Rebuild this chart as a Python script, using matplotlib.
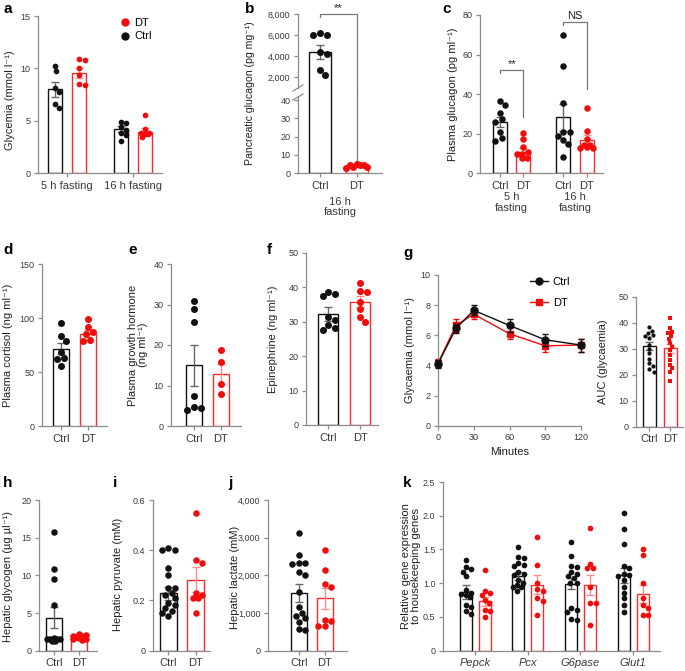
"""
Multi-panel figure: glycemia, glucagon, stress hormones and hepatic
metabolites in Ctrl vs DT mice (bar + scatter, Prism style).
"""

import numpy as np
import matplotlib
matplotlib.use('Agg')
import matplotlib.pyplot as plt
from matplotlib.lines import Line2D
from matplotlib.ticker import FuncFormatter

plt.rcParams['font.family'] = ['Liberation Sans', 'DejaVu Sans']
plt.rcParams['font.size'] = 8

# ---------------------------------------------------------------- data
# a - glycemia after fasting
a_groups = ['5 h fasting', '16 h fasting']
a_ctrl_pts = [[10.2, 9.7, 8.1, 7.7, 6.6, 6.2],
              [4.9, 4.8, 4.35, 4.15, 3.8, 3.6, 3.1]]
a_dt_pts = [[10.9, 10.8, 10.0, 9.4, 8.5, 8.4],
            [5.5, 4.2, 3.85, 3.8, 3.7, 3.7, 3.45]]
a_ctrl_mean = [8.0, 4.2]
a_ctrl_sem = [0.7, 0.25]
a_dt_mean = [9.55, 3.95]
a_dt_sem = [0.45, 0.35]

# b - pancreatic glucagon (16 h fasting)
b_ctrl_pts = [6220, 6030, 5970, 4380, 4220, 2670, 2160]
b_dt_pts = [3.5, 5.0, 4.6, 3.0, 4.2, 4.4, 3.1]
b_mean = [4400, 4.0]
b_sem = [650, 0.3]

# c - plasma glucagon
c_groups = ['5 h\nfasting', '16 h\nfasting']
c_ctrl_pts = [[36.5, 34.4, 30.2, 27.2, 25.7, 20.9, 17.9, 16.4],
              [70, 54, 35.3, 20.6, 20.6, 18.7, 16.7, 14.5, 8.3]]
c_dt_pts = [[20.4, 17.0, 13.0, 10.8, 9.8, 9.5, 7.4, 7.4],
            [32.8, 21.3, 17.0, 14.2, 13.3, 14.2, 12.5, 12.8]]
c_ctrl_mean = [25.7, 28.3]
c_ctrl_sem = [2.6, 6.8]
c_dt_mean = [10.8, 16.9]
c_dt_sem = [2.0, 2.3]

# d - plasma cortisol
d_ctrl = [95, 83, 79, 68.5, 63, 62, 56]
d_dt = [99.5, 92, 87.5, 85, 79.4, 78.8]
d_mean = [71.7, 85.5]
d_sem = [5.0, 3.2]

# e - plasma growth hormone
e_ctrl = [30.8, 29.0, 25.8, 7.5, 4.8, 4.5, 4.0]
e_dt = [18.8, 15.8, 10.3, 7.8]
e_mean = [15.0, 12.8]
e_sem = [5.0, 2.5]

# f - epinephrine
f_ctrl = [38.7, 38.1, 37.5, 31.5, 30.5, 29.1, 28.1, 27.6]
f_dt = [41.2, 39.0, 38.8, 35.9, 33.6, 31.5, 30.0]
f_mean = [32.2, 35.8]
f_sem = [2.0, 1.6]

# g - glucose tolerance curve + AUC
g_minutes = [0, 15, 30, 60, 90, 120]
g_ctrl = [4.1, 6.45, 7.66, 6.65, 5.7, 5.35]
g_ctrl_sem = [0.25, 0.3, 0.32, 0.4, 0.4, 0.43]
g_dt = [4.15, 6.65, 7.4, 6.1, 5.3, 5.35]
g_dt_sem = [0.25, 0.4, 0.3, 0.35, 0.4, 0.43]
auc_ctrl = [38.2, 36.8, 35.9, 35.3, 34.9, 34.0, 31.4, 29.8, 28.2, 25.9,
            24.4, 23.5, 22.0, 21.2]
auc_dt = [41.9, 37.8, 36.5, 35.9, 34.9, 33.7, 32.1, 30.8, 29.5, 27.6,
          25.7, 23.7, 22.5, 21.0, 17.6]
auc_mean = [31.0, 30.2]
auc_sem = [1.5, 1.7]

# h - hepatic glycogen
h_ctrl = [15.8, 10.8, 9.5, 6.0, 1.7, 1.6, 1.6, 1.5, 1.5, 1.4, 1.3, 1.3]
h_dt = [2.2, 2.1, 2.0, 1.9, 1.8, 1.7, 1.6, 1.5, 1.4]
h_mean = [4.4, 1.8]
h_sem = [1.35, 0.1]

# i - hepatic pyruvate
i_ctrl = [0.41, 0.40, 0.40, 0.33, 0.30, 0.25, 0.25, 0.23, 0.22, 0.21,
          0.19, 0.18, 0.17, 0.16, 0.15, 0.14]
i_dt = [0.55, 0.36, 0.35, 0.23, 0.22, 0.21, 0.21, 0.15]
i_mean = [0.228, 0.282]
i_sem = [0.025, 0.05]

# j - hepatic lactate
j_ctrl = [3130, 2540, 2340, 2320, 2300, 2080, 2000, 1560, 1150, 1000,
          920, 860, 750, 580, 550]
j_dt = [2680, 2140, 1760, 1700, 820, 800, 660, 650]
j_mean = [1520, 1390]
j_sem = [240, 280]

# k - relative gene expression
k_genes = ['Pepck', 'Pcx', 'G6pase', 'Glut1']
k_ctrl_pts = [
    [1.34, 1.24, 1.21, 1.17, 1.10, 0.90, 0.86, 0.84, 0.83, 0.80, 0.68, 0.65, 0.59, 0.55],
    [1.53, 1.39, 1.38, 1.30, 1.27, 1.25, 1.17, 1.14, 1.12, 1.05, 1.00, 0.97, 0.95, 0.94, 0.89],
    [1.61, 1.40, 1.25, 1.24, 1.17, 1.14, 1.10, 1.07, 1.01, 1.00, 0.63, 0.60, 0.58, 0.47, 0.45],
    [2.04, 1.81, 1.58, 1.26, 1.22, 1.14, 1.12, 1.10, 1.05, 0.95, 0.86, 0.78, 0.68, 0.58],
]
k_dt_pts = [
    [1.19, 0.89, 0.86, 0.82, 0.75, 0.70, 0.60, 0.59, 0.50],
    [1.68, 1.27, 1.00, 0.91, 0.88, 0.78, 0.74, 0.53],
    [1.82, 1.29, 1.22, 1.22, 0.95, 0.70, 0.70, 0.38],
    [1.50, 1.42, 1.00, 0.78, 0.68, 0.64, 0.53, 0.53],
]
k_ctrl_mean = [0.87, 1.11, 0.99, 1.12]
k_ctrl_sem = [0.1, 0.06, 0.08, 0.11]
k_dt_mean = [0.73, 0.975, 0.97, 0.84]
k_dt_sem = [0.07, 0.14, 0.15, 0.13]

# ---------------------------------------------------------------- style
RED = '#f20c0c'
RED_EDGE = '#ff2a2a'
RED_ERR = '#ff8c8c'
BLACK = '#111111'
BLACK_ERR = '#666666'
SPINE = '#8c8c8c'
TICKTXT = '#3a3a3a'
LABEL = '#222222'

STYLES = {
    'ctrl': dict(dot=BLACK, edge=BLACK, err=BLACK_ERR),
    'dt': dict(dot=RED, edge=RED_EDGE, err=RED_ERR),
}

W, H = 685, 671
fig = plt.figure(figsize=(W / 100, H / 100), dpi=100)


def px_axes(x0, y0, x1, y1):
    """Add axes given a pixel box (y measured from the top)."""
    ax = fig.add_axes([x0 / W, 1 - y1 / H, (x1 - x0) / W, (y1 - y0) / H])
    for s in ('top', 'right'):
        ax.spines[s].set_visible(False)
    for s in ('left', 'bottom'):
        ax.spines[s].set_color(SPINE)
        ax.spines[s].set_linewidth(0.9)
    ax.tick_params(colors=SPINE, labelcolor=TICKTXT, length=3, width=0.9, pad=2.5)
    ax.tick_params(axis='y', labelsize=6.5)
    ax.tick_params(axis='x', labelsize=8)
    return ax


def fig_text(x, y, s, **kw):
    fig.text(x / W, 1 - y / H, s, **kw)


def ylabel(x, y, s, fontsize=8, **kw):
    fig_text(x, y, s, rotation=90, ha='center', va='center', color=LABEL,
             fontsize=fontsize, multialignment='center', **kw)


def fig_line(xs, ys, **kw):
    fig.add_artist(Line2D([x / W for x in xs], [1 - y / H for y in ys],
                          transform=fig.transFigure, **kw))


def swarm_x(ax, x, vals, diam, half_w):
    """Spread points sideways (pixel space) within the bar, like Prism."""
    to_px = ax.transData.transform
    x0 = to_px((x, 0))[0]
    lim = abs(to_px((x + half_w, 0))[0] - x0)
    steps = np.arange(0, lim + 0.01, diam * 0.25)
    cands = [0.0] + [s for v in steps[1:] for s in (v, -v)]
    placed = []
    out = np.zeros(len(vals))
    for i in np.argsort(vals)[::-1]:
        y = to_px((x, vals[i]))[1]
        best, best_d = 0.0, -1
        for c in cands:
            d = min([np.hypot(x0 + c - px, y - py) for px, py in placed] or [1e9])
            if d >= 0.92 * diam:
                best = c
                break
            if d > best_d + 0.5:
                best, best_d = c, d
        placed.append((x0 + best, y))
        out[i] = ax.transData.inverted().transform((x0 + best, y))[0]
    return out


def bar_dots(ax, x, mean, sem, pts, kind, width, dot_px, marker='o',
             show_bar=True, show_err=True):
    st = STYLES[kind]
    if show_bar:
        ax.bar(x, mean, width, facecolor='white', edgecolor=st['edge'],
               linewidth=1.0, zorder=1)
    if show_err:
        ax.errorbar(x, mean, yerr=sem, fmt='none', ecolor=st['err'],
                    elinewidth=1.0, capsize=2.8, capthick=1.0, zorder=2)
    if pts is not None:
        xs = swarm_x(ax, x, pts, dot_px, width / 2)
        d_pt = dot_px * 0.72
        ax.scatter(xs, pts, s=d_pt ** 2, color=st['dot'], marker=marker,
                   linewidths=0, zorder=3, clip_on=False)


def two_bar_panel(box, ylim, yticks, xlim, ctrl, dt, mean, sem, width, dot_px,
                  fmt=None, dt_marker='o'):
    ax = px_axes(*box)
    ax.set_xlim(*xlim)
    ax.set_ylim(*ylim)
    ax.set_yticks(yticks)
    if fmt is not None:
        ax.yaxis.set_major_formatter(FuncFormatter(fmt))
    ax.set_xticks([0, 1])
    ax.set_xticklabels(['Ctrl', 'DT'])
    bar_dots(ax, 0, mean[0], sem[0], ctrl, 'ctrl', width, dot_px)
    bar_dots(ax, 1, mean[1], sem[1], dt, 'dt', width, dot_px, marker=dt_marker)
    return ax


comma = lambda v, p: f'{v:,.0f}'
dec1 = lambda v, p: '0' if v == 0 else f'{v:.1f}'

# ---------------------------------------------------------------- a
ax = px_axes(38, 16, 162, 173)
ax.set_xlim(-0.44, 1.44)
ax.set_ylim(0, 15)
ax.set_yticks([0, 5, 10, 15])
ax.set_xticks([0, 1])
ax.set_xticklabels(a_groups)
off = 0.185
for g in range(2):
    bar_dots(ax, g - off, a_ctrl_mean[g], a_ctrl_sem[g], a_ctrl_pts[g], 'ctrl', 0.21, 5.7)
    bar_dots(ax, g + off, a_dt_mean[g], a_dt_sem[g], a_dt_pts[g], 'dt', 0.21, 5.7)
handles = [Line2D([], [], ls='none', marker='o', ms=5, color=RED),
           Line2D([], [], ls='none', marker='o', ms=5, color=BLACK)]
ax.legend(handles, ['DT', 'Ctrl'], loc='upper left', bbox_to_anchor=(0.657, 0.99),
          frameon=False, handlelength=1.0, handletextpad=0.3, labelspacing=0.35,
          borderpad=0, borderaxespad=0, fontsize=8)
ylabel(10, 100, 'Glycemia (mmol l⁻¹)')

# ---------------------------------------------------------------- b (broken axis)
lo = px_axes(298, 88, 382, 173)
hi = px_axes(298, 14, 382, 88)
lo_top = (173 - 88) / ((173 - 100) / 40)
hi_bot = 2000 - (88 - 77) / 10.5 * 1000
for a_ in (lo, hi):
    a_.set_xlim(-0.59, 1.68)
lo.set_ylim(0, lo_top)
lo.set_yticks([0, 10, 20, 30, 40])
lo.spines['left'].set_bounds(0, 41.5)
lo.set_xticks([0, 1])
lo.set_xticklabels(['Ctrl', 'DT'])
hi.set_ylim(hi_bot, 8000)
hi.set_yticks([2000, 4000, 6000, 8000])
hi.yaxis.set_major_formatter(FuncFormatter(comma))
hi.spines['bottom'].set_visible(False)
hi.set_xticks([])
bar_dots(lo, 0, b_mean[0], b_sem[0], None, 'ctrl', 0.6, 7, show_err=False)
bar_dots(hi, 0, b_mean[0], b_sem[0], b_ctrl_pts, 'ctrl', 0.6, 7)
bar_dots(lo, 1, b_mean[1], b_sem[1], b_dt_pts, 'dt', 0.6, 7)
# break marks on the y axis
fig_line([293, 303], [91, 85], color=SPINE, lw=0.9)
fig_line([293, 303], [100, 94], color=SPINE, lw=0.9)
# significance bracket
bk = dict(color='#777777', lw=0.9, clip_on=False)
hi.plot([0, 0, 1, 1], [7700, 8000, 8000, hi_bot], **bk)
lo.plot([1, 1], [lo_top, 6.5], **bk)
hi.text(0.5, 8050, '**', ha='center', va='bottom', fontsize=8, color=LABEL)
lo.annotate('16 h\nfasting', xy=(0.55, 0), xycoords=lo.get_xaxis_transform(),
            xytext=(0, -17), textcoords='offset points', ha='center', va='top',
            fontsize=8, linespacing=1.05, color=TICKTXT)
ylabel(250, 93, 'Pancreatic glucagon (pg mg⁻¹)', fontsize=7.6)

# ---------------------------------------------------------------- c
ax = px_axes(480, 15, 603, 173)
ax.set_xlim(-0.5, 1.44)
ax.set_ylim(0, 80)
ax.set_yticks([0, 20, 40, 60, 80])
ax.set_xticks([-off, off, 1 - off, 1 + off])
ax.set_xticklabels(['Ctrl', 'DT', 'Ctrl', 'DT'])
for g in range(2):
    bar_dots(ax, g - off, c_ctrl_mean[g], c_ctrl_sem[g], c_ctrl_pts[g], 'ctrl', 0.22, 6.5)
    bar_dots(ax, g + off, c_dt_mean[g], c_dt_sem[g], c_dt_pts[g], 'dt', 0.22, 6.5)
    ax.annotate(c_groups[g], xy=(g, 0), xycoords=ax.get_xaxis_transform(),
                xytext=(0, -14), textcoords='offset points', ha='center', va='top',
                fontsize=8, linespacing=1.05, color=TICKTXT)
ax.plot([-off, -off, off, off], [50.6, 52, 52, 28.5], **bk)
ax.text(0, 52.6, '**', ha='center', va='bottom', fontsize=8, color=LABEL)
ax.plot([1 - off, 1 - off, 1 + off, 1 + off], [74.8, 76.3, 76.3, 42.5], **bk)
ax.text(1, 77, 'NS', ha='center', va='bottom', fontsize=8, color=LABEL)
ylabel(453, 94, 'Plasma glucagon (pg ml⁻¹)')

# ---------------------------------------------------------------- d, e, f
two_bar_panel((42, 264, 107, 426), (0, 150), [0, 50, 100, 150], (-0.7, 1.7),
              d_ctrl, d_dt, d_mean, d_sem, 0.59, 7)
ylabel(8, 345, 'Plasma cortisol (ng ml⁻¹)')

two_bar_panel((171, 264, 241, 426), (0, 40), [0, 10, 20, 30, 40], (-0.85, 1.74),
              e_ctrl, e_dt, e_mean, e_sem, 0.59, 7)
ylabel(138, 345, 'Plasma growth hormone\n(ng ml⁻¹)', linespacing=1.0)

two_bar_panel((306, 253, 378, 425), (0, 50), [0, 10, 20, 30, 40, 50], (-0.69, 1.56),
              f_ctrl, f_dt, f_mean, f_sem, 0.6, 7)
ylabel(273, 339, 'Epinephrine (ng ml⁻¹)')

# ---------------------------------------------------------------- g
ax = px_axes(438, 275, 581, 425.7)
ax.set_xlim(0, 120)
ax.set_ylim(0, 10)
ax.set_xticks([0, 30, 60, 90, 120])
ax.set_yticks([0, 2, 4, 6, 8, 10])
ax.tick_params(axis='x', labelsize=6.5)
ax.errorbar(g_minutes, g_dt, yerr=g_dt_sem, color=RED, ecolor=RED, lw=1.0,
            marker='s', ms=4.5, capsize=2.5, elinewidth=0.9, zorder=2, clip_on=False)
ax.errorbar(g_minutes, g_ctrl, yerr=g_ctrl_sem, color=BLACK, ecolor=BLACK, lw=1.0,
            marker='o', ms=5, capsize=2.5, elinewidth=0.9, zorder=3, clip_on=False)
ax.set_xlabel('Minutes', fontsize=8, color=LABEL, labelpad=3)
handles = [Line2D([], [], color=BLACK, lw=1.0, marker='o', ms=5),
           Line2D([], [], color=RED, lw=1.0, marker='s', ms=4.5)]
ax.legend(handles, ['Ctrl', 'DT'], loc='upper left', bbox_to_anchor=(0.643, 0.99),
          frameon=False, handlelength=1.6, handletextpad=0.45, labelspacing=1.0,
          borderpad=0, borderaxespad=0, fontsize=8)
ylabel(410, 350, 'Glycaemia (mmol l⁻¹)')

ax = px_axes(636, 296.7, 683, 426.7)
ax.set_xlim(-0.64, 1.6)
ax.set_ylim(0, 50)
ax.set_yticks([0, 10, 20, 30, 40, 50])
ax.set_xticks([0, 1])
ax.set_xticklabels(['Ctrl', 'DT'])
bar_dots(ax, 0, auc_mean[0], auc_sem[0], auc_ctrl, 'ctrl', 0.62, 4.2)
bar_dots(ax, 1, auc_mean[1], auc_sem[1], auc_dt, 'dt', 0.62, 4.0, marker='s')
ylabel(603, 362, 'AUC (glycaemia)')

# ---------------------------------------------------------------- h, i, j
two_bar_panel((39, 500, 97, 650.7), (0, 20), [0, 5, 10, 15, 20], (-0.58, 1.71),
              h_ctrl, h_dt, h_mean, h_sem, 0.63, 6.5)
ylabel(8, 576, 'Hepatic glycogen (µg µl⁻¹)')

two_bar_panel((153, 500, 210, 650.7), (0, 0.6), [0, 0.2, 0.4, 0.6], (-0.56, 1.51),
              i_ctrl, i_dt, i_mean, i_sem, 0.62, 6.5, fmt=dec1)
ylabel(118, 574, 'Hepatic pyruvate (mM)')

two_bar_panel((268, 500, 347, 650.7), (0, 4000), [0, 1000, 2000, 3000, 4000],
              (-1.19, 1.85), j_ctrl, j_dt, j_mean, j_sem, 0.62, 6.5, fmt=comma)
ylabel(235, 577, 'Hepatic lactate (mM)')

# ---------------------------------------------------------------- k
ax = px_axes(443, 482, 660, 650.7)
ax.set_xlim(-0.61, 3.51)
ax.set_ylim(0, 2.5)
ax.set_yticks([0, 0.5, 1.0, 1.5, 2.0, 2.5])
ax.yaxis.set_major_formatter(FuncFormatter(dec1))
ax.set_xticks(range(len(k_genes)))
ax.set_xticklabels(k_genes, fontstyle='italic')
for g in range(len(k_genes)):
    bar_dots(ax, g - 0.18, k_ctrl_mean[g], k_ctrl_sem[g], k_ctrl_pts[g], 'ctrl', 0.23, 5.7)
    bar_dots(ax, g + 0.18, k_dt_mean[g], k_dt_sem[g], k_dt_pts[g], 'dt', 0.23, 5.7)
ylabel(411, 566, 'Relative gene expression\nto housekeeping genes', linespacing=1.0)

# ---------------------------------------------------------------- panel letters
letters = [('a', 3, 2), ('b', 245, 2), ('c', 442, 2),
           ('d', 3, 243), ('e', 128, 243), ('f', 267, 243), ('g', 403, 246),
           ('h', 3, 476), ('i', 113, 476), ('j', 228, 476), ('k', 403, 476)]
for s, x, y in letters:
    fig_text(x, y, s, fontsize=11, fontweight='bold', ha='left', va='top', color='black')

fig.savefig('out.png', dpi=100)
